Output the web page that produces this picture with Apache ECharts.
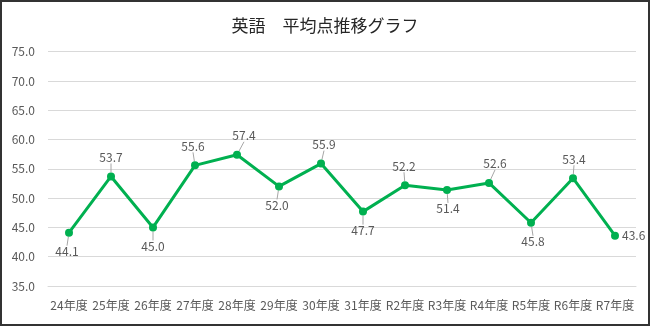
<!DOCTYPE html>
<html>
<head>
<meta charset="utf-8">
<script src="https://cdn.jsdelivr.net/npm/echarts@6/dist/echarts.min.js"></script>
<style>
  html, body { margin: 0; padding: 0; background: #fff; }
  #frame { width: 650px; height: 326px; box-sizing: border-box; border: 2px solid #333; }
  #chart { width: 646px; height: 322px; }
</style>
</head>
<body>
<div id="frame"><div id="chart"></div></div>
<script>
// 年度ごとの英語の平均点
const categories = ['24年度', '25年度', '26年度', '27年度', '28年度', '29年度', '30年度', '31年度',
                    'R2年度', 'R3年度', 'R4年度', 'R5年度', 'R6年度', 'R7年度'];
const scores = [44.1, 53.7, 45.0, 55.6, 57.4, 52.0, 55.9, 47.7, 52.2, 51.4, 52.6, 45.8, 53.4, 43.6];
// ラベルの置き場所（上・下・右）
const labelSides = ['below', 'above', 'below', 'above', 'above', 'below', 'above', 'below',
                    'above', 'below', 'above', 'below', 'above', 'right'];

// ラベルをずらす量（引き出し線つき）
const labelShift = {
  above: [0, -19],
  below: [0, 19],
  right: [0, 0]
};
const labelNudgeX = [-2, 0, 0, -2, 7, -2, 3, 0, -1, 1, 6, 2, 1, 0];

const seriesData = scores.map((v, i) => {
  if (labelSides[i] === 'right') {
    return {
      value: v,
      label: { position: 'right', distance: 3 },
      labelLine: { show: false }
    };
  }
  return { value: v };
});

const chart = echarts.init(document.getElementById('chart'));
chart.setOption({
  animation: false,
  title: {
    text: '英語　平均点推移グラフ',
    left: 'center',
    top: 10,
    textStyle: { fontFamily: 'Noto Sans CJK JP', fontSize: 17, fontWeight: 'normal', color: '#262626' }
  },
  grid: { left: 46, right: 12, top: 49.7, bottom: 38 },
  xAxis: {
    type: 'category',
    data: categories,
    axisLine: { show: true, lineStyle: { color: '#d9d9d9' } },
    axisTick: { show: false },
    axisLabel: { color: '#595959', fontSize: 12, fontFamily: 'Noto Sans CJK JP', margin: 13, interval: 0 }
  },
  yAxis: {
    type: 'value',
    min: 35,
    max: 75,
    interval: 5,
    axisLine: { show: false },
    axisTick: { show: false },
    splitLine: { lineStyle: { color: '#d9d9d9', width: 1 } },
    axisLabel: {
      color: '#595959', fontSize: 12, fontFamily: 'Noto Sans CJK JP', margin: 13,
      formatter: v => v.toFixed(1)
    }
  },
  series: [{
    type: 'line',
    data: seriesData,
    symbol: 'circle',
    symbolSize: 8,
    lineStyle: { color: '#00b050', width: 3 },
    itemStyle: { color: '#00b050' },
    label: {
      show: true,
      position: 'inside',
      color: '#595959',
      fontSize: 12,
      fontFamily: 'Noto Sans CJK JP',
      formatter: p => p.value.toFixed(1)
    },
    labelLine: {
      show: true,
      lineStyle: { color: '#a6a6a6', width: 1 }
    },
    labelLayout: function (params) {
      const side = labelSides[params.dataIndex];
      const s = labelShift[side];
      return { dx: s[0] + labelNudgeX[params.dataIndex], dy: s[1] };
    }
  }]
});
</script>
</body>
</html>
